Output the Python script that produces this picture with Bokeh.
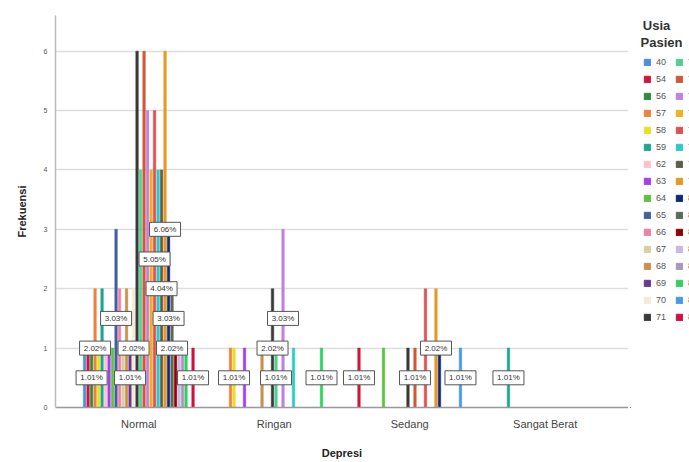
from bokeh.plotting import figure
from bokeh.layouts import row
from bokeh.models import (ColumnDataSource, FactorRange, Range1d, LabelSet, Legend,
                          LegendItem, Label, SingleIntervalTicker)
from bokeh.transform import dodge
from bokeh.embed import file_html
from bokeh.resources import INLINE
from bokeh.core.properties import value

categories = ["Normal", "Ringan", "Sedang", "Sangat Berat"]

ages = ["40", "54", "56", "57", "58", "59", "62", "63", "64", "65", "66", "67", "68", "69", "70", "71",
        "72", "73", "74", "75", "76", "77", "78", "79", "80", "81", "82", "83", "84", "85", "86", "88"]

colors = ["#4A90D9", "#D4143C", "#2E8B3E", "#F08040", "#E8E020", "#1AA88F", "#FFC0CB", "#A040F0",
          "#60C040", "#4060A0", "#F080A8", "#D8D0A0", "#C89050", "#6A3890", "#F3EBD3", "#3A3A3A",
          "#50D090", "#D05838", "#C080E0", "#F0B020", "#E05050", "#30C8D0", "#5A6048", "#E89820",
          "#102878", "#5A6A5A", "#900000", "#C8B8E8", "#A898B8", "#30D060", "#4898E8", "#D01040"]

normal = [1, 1, 1, 2, 1, 2, 1, 1, 1, 3, 2, 1, 2, 1, 2, 6,
          4, 6, 5, 4, 5, 4, 4, 6, 3, 2, 1, 1, 1, 1, 0, 1]
ringan = [0, 0, 0, 1, 1, 0, 0, 1, 0, 0, 0, 0, 1, 0, 0, 2,
          1, 0, 3, 0, 0, 1, 0, 0, 0, 0, 0, 0, 0, 1, 0, 0]
sedang = [0, 1, 0, 0, 0, 0, 0, 0, 1, 0, 0, 0, 0, 0, 0, 1,
          0, 1, 0, 0, 2, 0, 0, 2, 1, 0, 0, 0, 0, 0, 1, 0]
sangat_berat = [0, 0, 0, 0, 0, 1, 0, 0, 0, 0, 0, 0, 0, 0, 0, 0,
                0, 0, 0, 0, 0, 0, 0, 0, 0, 0, 0, 0, 0, 0, 0, 0]

series = [normal, ringan, sedang, sangat_berat]
total = sum(sum(s) for s in series)

FONT = "Liberation Sans"
SLOT = 3.5 / 135.5          # width of one cluster slot, in category units
BAR_W = SLOT * 0.72
MIN_GAP = 10                # data labels that would overlap are hidden (right to left)

# which data labels are drawn (overlapping ones at the same height are suppressed)
shown = set()
for cat, s in zip(categories, series):
    last = {}
    for i in range(len(ages) - 1, -1, -1):
        c = s[i]
        if c > 0 and (c not in last or last[c] - i >= MIN_GAP):
            shown.add((cat, i))
            last[c] = i

p = figure(width=628, height=462,
           x_range=FactorRange(*categories, range_padding=0.115, range_padding_units="absolute"),
           y_range=Range1d(0, 6.6),
           output_backend="svg", toolbar_location=None,
           min_border_left=55, min_border_right=0, min_border_top=15, min_border_bottom=55)
p.background_fill_color = "white"
p.border_fill_color = "white"
p.outline_line_color = None

# separate narrow figure that only holds the legend (its frame is aligned with the main one)
lf = figure(width=61, height=462, output_backend="svg", toolbar_location=None,
            x_axis_location=None, y_axis_location=None,
            x_range=Range1d(0, 1), y_range=Range1d(0, 1),
            min_border_left=2, min_border_right=0, min_border_top=15, min_border_bottom=55)
lf.outline_line_color = None
lf.grid.grid_line_color = None

items = []
label_sources = []
for i, age in enumerate(ages):
    cats, cnts = [], []
    for cat, s in zip(categories, series):
        if s[i] > 0:
            cats.append(cat)
            cnts.append(s[i])
    src = ColumnDataSource(dict(cat=cats, count=cnts))
    off = (i - 15.5) * SLOT
    p.vbar(x=dodge("cat", off, range=p.x_range), top="count", width=BAR_W, source=src,
           fill_color=colors[i], line_color=colors[i], line_width=0.5)
    # legend swatch: a bar kept outside the legend figure's visible range
    swatch = lf.vbar(x=[-5], top=[-5], width=1, fill_color=colors[i], line_color=colors[i])
    items.append(LegendItem(label=age, renderers=[swatch]))

    lc = [(c, n) for c, n in zip(cats, cnts) if (c, i) in shown]
    if lc:
        lsrc = ColumnDataSource(dict(cat=[c for c, _ in lc],
                                     half=[n / 2 for _, n in lc],
                                     pct=[f"{n / total * 100:.2f}%" for _, n in lc]))
        label_sources.append((lsrc, off))

for lsrc, off in label_sources:
    p.rect(x=dodge("cat", off, range=p.x_range), y="half", width=31, height=14,
           width_units="screen", height_units="screen", source=lsrc,
           fill_color="white", line_color="#555555", line_width=1)
for lsrc, off in label_sources:
    p.add_layout(LabelSet(x=dodge("cat", off, range=p.x_range), y="half", text="pct", source=lsrc,
                          text_font=value(FONT), text_font_size="8px", text_color="#333333",
                          text_align="center", text_baseline="middle"))

legend = Legend(items=items, location=(13, 85), ncols=2, orientation="vertical",
                glyph_width=8, glyph_height=8, label_height=10, label_width=12, label_standoff=5,
                label_text_font=FONT, label_text_font_size="9px", label_text_color="#555555",
                spacing=7, padding=0, margin=0, border_line_color=None,
                background_fill_alpha=0)
lf.add_layout(legend)

for txt, x, y in [("Usia", 26, 382), ("Pasien", 31, 365)]:
    lf.add_layout(Label(x=x, y=y, x_units="screen", y_units="screen", text=txt,
                        text_font=FONT, text_font_size="13px", text_font_style="bold",
                        text_color="#333333", text_align="center", text_baseline="middle"))

p.xgrid.grid_line_color = None
p.ygrid.grid_line_color = "#DDDDDD"
p.ygrid.grid_line_width = 1.5

p.yaxis.ticker = SingleIntervalTicker(interval=1)
p.yaxis.axis_label = "Frekuensi"
p.yaxis.axis_label_text_font = FONT
p.yaxis.axis_label_text_font_size = "11px"
p.yaxis.axis_label_text_font_style = "bold"
p.yaxis.axis_label_text_color = "#222222"
p.yaxis.axis_label_standoff = 13
p.yaxis.major_label_text_font = FONT
p.yaxis.major_label_text_font_size = "7px"
p.yaxis.major_label_text_color = "#555555"
p.yaxis.major_label_standoff = 4
p.yaxis.axis_line_color = "#BBBBBB"
p.yaxis.axis_line_width = 1.5
p.yaxis.major_tick_line_color = None
p.yaxis.major_tick_out = 0
p.yaxis.minor_tick_line_color = None

p.xaxis.axis_label = "Depresi"
p.xaxis.axis_label_text_font = FONT
p.xaxis.axis_label_text_font_size = "11px"
p.xaxis.axis_label_text_font_style = "bold"
p.xaxis.axis_label_text_color = "#222222"
p.xaxis.axis_label_standoff = 14
p.xaxis.major_label_text_font = FONT
p.xaxis.major_label_text_font_size = "11px"
p.xaxis.major_label_text_color = "#444444"
p.xaxis.major_label_standoff = 10
p.xaxis.axis_line_color = "#999999"
p.xaxis.axis_line_width = 1.5
p.xaxis.major_tick_line_color = None
p.xaxis.major_tick_out = 0
p.xaxis.minor_tick_line_color = None

open("out.html", "w").write(file_html(row(p, lf), INLINE))
